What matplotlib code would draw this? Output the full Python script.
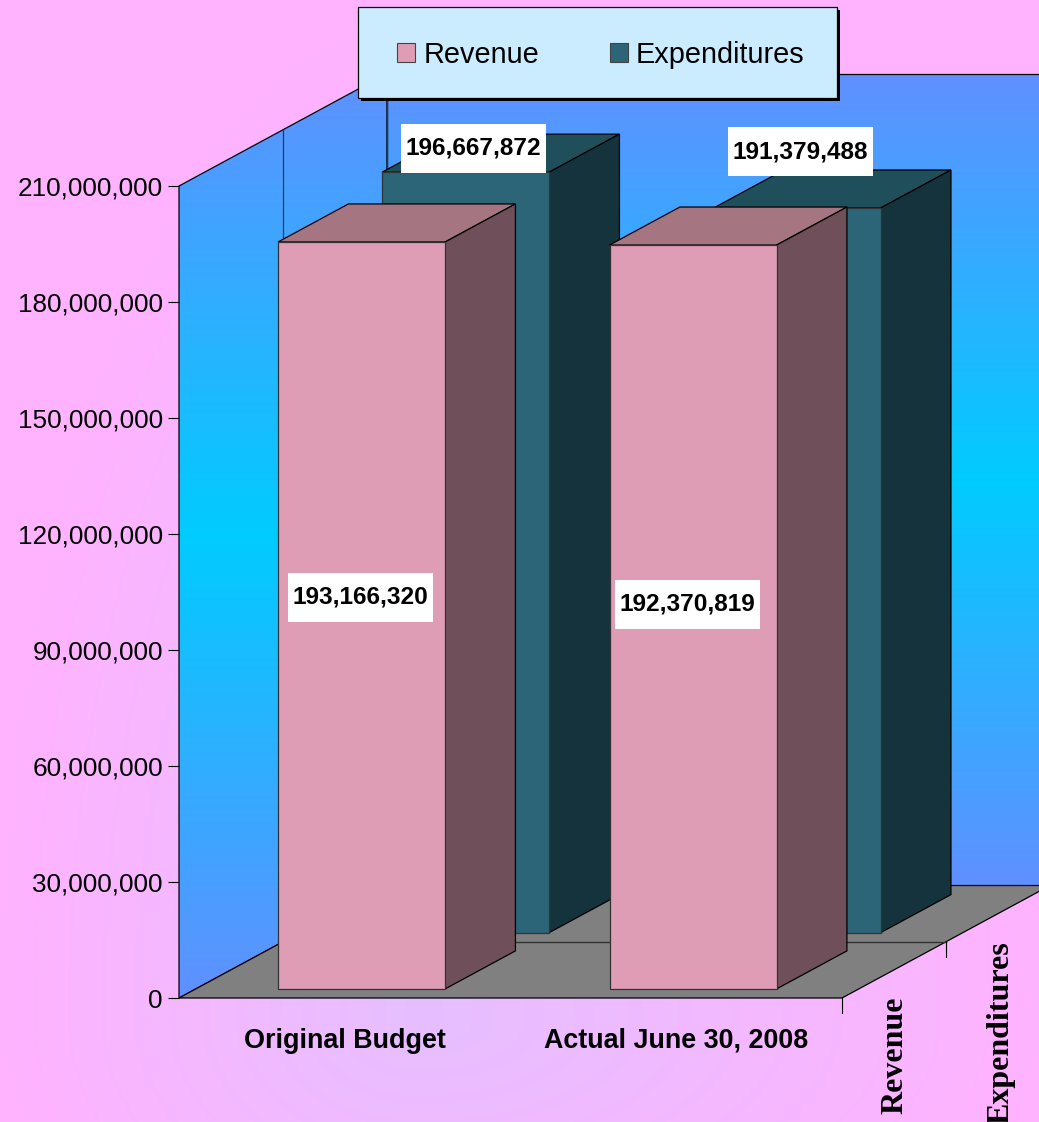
import numpy as np
import matplotlib
matplotlib.use("Agg")
import matplotlib.pyplot as plt
from matplotlib.colors import LinearSegmentedColormap, to_rgb
from matplotlib.patches import Patch, Polygon, Rectangle
from matplotlib.ticker import FuncFormatter

plt.rcParams['font.family'] = ['Liberation Sans', 'DejaVu Sans']

categories = ["Original Budget", "Actual June 30, 2008"]
series_names = ["Revenue", "Expenditures"]
revenue = [193166320, 192370819]
# second expenditures bar is drawn lower in the picture than its label says
expenditures = [196667872, 187400000]
revenue_labels = ["193,166,320", "192,370,819"]
expenditure_labels = ["196,667,872", "191,379,488"]
y_ticks = [0, 30000000, 60000000, 90000000, 120000000, 150000000, 180000000, 210000000]

W, H = 1039, 1122
Y_MAX = 210000000
# oblique projection: full depth of the box, in data units
DEPTH_X = 208 / 331.5
DEPTH_Y = 112.5 / 812 * Y_MAX
BAR_HALF = 0.252
DEPTH_HALF = 0.169
SERIES_DEPTH = [0.25, 0.75]


def proj(x, v, d):
    return (x + d * DEPTH_X, v + d * DEPTH_Y)


def px(x, y):
    return (x / W, 1 - y / H)


def page_box(x0, y0, x1, y1, z, **kw):
    fig.add_artist(Rectangle(px(x0, y1), (x1 - x0) / W, (y1 - y0) / H,
                             transform=fig.transFigure, zorder=z, **kw))


fig = plt.figure(figsize=(W / 100, H / 100), dpi=100)

# page background, a lavender glow low on the page fading out to pink
bg = fig.add_axes([0, 0, 1, 1], zorder=0)
bg.axis("off")
xx, yy = np.meshgrid(np.arange(W), np.arange(H))
rx = np.where(xx < 420, 420, 620)
ry = np.where(yy < 1020, 1000, 300)
t = np.clip(1 - np.sqrt(((xx - 420) / rx) ** 2 + ((yy - 1020) / ry) ** 2), 0, 1)[..., None]
bg.imshow(np.array(to_rgb("#ffb3ff")) * (1 - t) + np.array(to_rgb("#e6bfff")) * t, aspect="auto")

ax = fig.add_axes([179 / W, 1 - 998 / H, 663 / W, 812 / H], zorder=1)
ax.patch.set_alpha(0)
ax.set_xlim(-0.5, 1.5)
ax.set_ylim(0, Y_MAX)
for s in ax.spines.values():
    s.set_visible(False)

wall_cmap = LinearSegmentedColormap.from_list("wall", ["#6090ff", "#00ccff", "#6090ff"])
grad = np.linspace(0, 1, 256).reshape(-1, 1)


def wall(points, extent):
    poly = Polygon(points, closed=True, fc="none", ec="black", lw=0.9, zorder=2, clip_on=False)
    ax.add_patch(poly)
    im = ax.imshow(grad, cmap=wall_cmap, extent=extent, aspect="auto", zorder=1, origin="lower")
    im.set_clip_box(fig.bbox)
    im.set_clip_path(poly)


xl, xr = -0.5, 1.5
wall([proj(xl, 0, 1), proj(xr, 0, 1), proj(xr, Y_MAX, 1), proj(xl, Y_MAX, 1)],
     [proj(xl, 0, 1)[0], proj(xr, 0, 1)[0], DEPTH_Y, Y_MAX + DEPTH_Y])
wall([proj(xl, 0, 0), proj(xl, 0, 1), proj(xl, Y_MAX, 1), proj(xl, Y_MAX, 0)],
     [xl, proj(xl, 0, 1)[0], 0, Y_MAX + DEPTH_Y])
ax.set_xlim(-0.5, 1.5)
ax.set_ylim(0, Y_MAX)

ax.add_patch(Polygon([proj(xl, 0, 0), proj(xr, 0, 0), proj(xr, 0, 1), proj(xl, 0, 1)],
                     closed=True, fc="#808080", ec="black", lw=0.9, zorder=3, clip_on=False))

# depth gridlines on the left wall and the floor, plus the small depth ticks
for d in [0.5, 1]:
    a, b = proj(xl, 0, d), proj(xl, Y_MAX, d)
    ax.plot([a[0], b[0]], [a[1], b[1]], color="#1c3a55", lw=0.9, zorder=3, clip_on=False)
a, b = proj(xl, 0, 0.5), proj(xr, 0, 0.5)
ax.plot([a[0], b[0]], [a[1], b[1]], color="#333333", lw=1, zorder=3, clip_on=False)
for d in [0, 0.5]:
    a = proj(xr, 0, d)
    ax.plot([a[0], a[0]], [a[1], a[1] - 3900000], color="black", lw=0.8, zorder=3, clip_on=False)


def bar3d(x, value, depth, front, top, side, z):
    x0, x1 = x - BAR_HALF, x + BAR_HALF
    d0, d1 = depth - DEPTH_HALF, depth + DEPTH_HALF
    ax.add_patch(Polygon([proj(x0, value, d0), proj(x1, value, d0), proj(x1, value, d1), proj(x0, value, d1)],
                         closed=True, fc=top, ec="black", lw=0.9, zorder=z, clip_on=False))
    ax.add_patch(Polygon([proj(x1, 0, d0), proj(x1, 0, d1), proj(x1, value, d1), proj(x1, value, d0)],
                         closed=True, fc=side, ec="black", lw=0.9, zorder=z, clip_on=False))
    ax.add_patch(Polygon([proj(x0, 0, d0), proj(x1, 0, d0), proj(x1, value, d0), proj(x0, value, d0)],
                         closed=True, fc=front, ec="#333333", lw=0.9, zorder=z, clip_on=False))


for i in range(len(categories)):
    bar3d(i, expenditures[i], SERIES_DEPTH[1], "#2b6577", "#1f4f5a", "#15333c", 4 + i * 0.1)
for i in range(len(categories)):
    bar3d(i, revenue[i], SERIES_DEPTH[0], "#de9cb5", "#a67582", "#6f505a", 5 + i * 0.1)

ax.set_yticks(y_ticks)
ax.yaxis.set_major_formatter(FuncFormatter(lambda v, p: f"{int(v):,}"))
ax.tick_params(axis="y", length=8, width=0.8, pad=3.6, labelsize=18.8, colors="black")
ax.set_xticks(range(len(categories)))
ax.set_xticklabels(categories, fontweight="bold", fontsize=19.4)
ax.tick_params(axis="x", length=0, pad=21.5)

# data labels in white boxes
label_pos = [((473.5, 148.5), (360.5, 597.5)), ((800.5, 151.5), (687.5, 604.5))]
for i in range(len(categories)):
    for txt, pos in zip([expenditure_labels[i], revenue_labels[i]], label_pos[i]):
        page_box(pos[0] - 72.5, pos[1] - 24.5, pos[0] + 72.5, pos[1] + 24.5, 10, fc="white", ec="none")
        x, y = px(*pos)
        fig.text(x, y, txt, ha="center", va="center", fontsize=17.6, fontweight="bold", zorder=11)

# depth axis labels
for name, x, y in zip(series_names, [895, 1001], [997, 941]):
    fx, fy = px(x, y)
    fig.text(fx, fy, name, rotation=90, ha="center", va="top", fontsize=23, fontweight="bold",
             family=["Liberation Serif", "DejaVu Serif"], zorder=10)

# legend box and its hard shadow
page_box(361, 10, 840, 101, 8, fc="black", ec="none")
page_box(358, 7, 837, 98, 8.5, fc="#cbebff", ec="black", lw=0.9)
handles = [Patch(fc="#de9cb5", ec="#444444", lw=0.8), Patch(fc="#2b6577", ec="#444444", lw=0.8)]
leg = fig.legend(handles, series_names, loc="center", bbox_to_anchor=px(601, 55),
                 ncol=2, fontsize=20.8, frameon=False,
                 handlelength=0.62, handleheight=0.62, handletextpad=0.28, columnspacing=2.46,
                 borderpad=0, borderaxespad=0)
leg.set_zorder(9)

fig.savefig("out.png", dpi=100)
